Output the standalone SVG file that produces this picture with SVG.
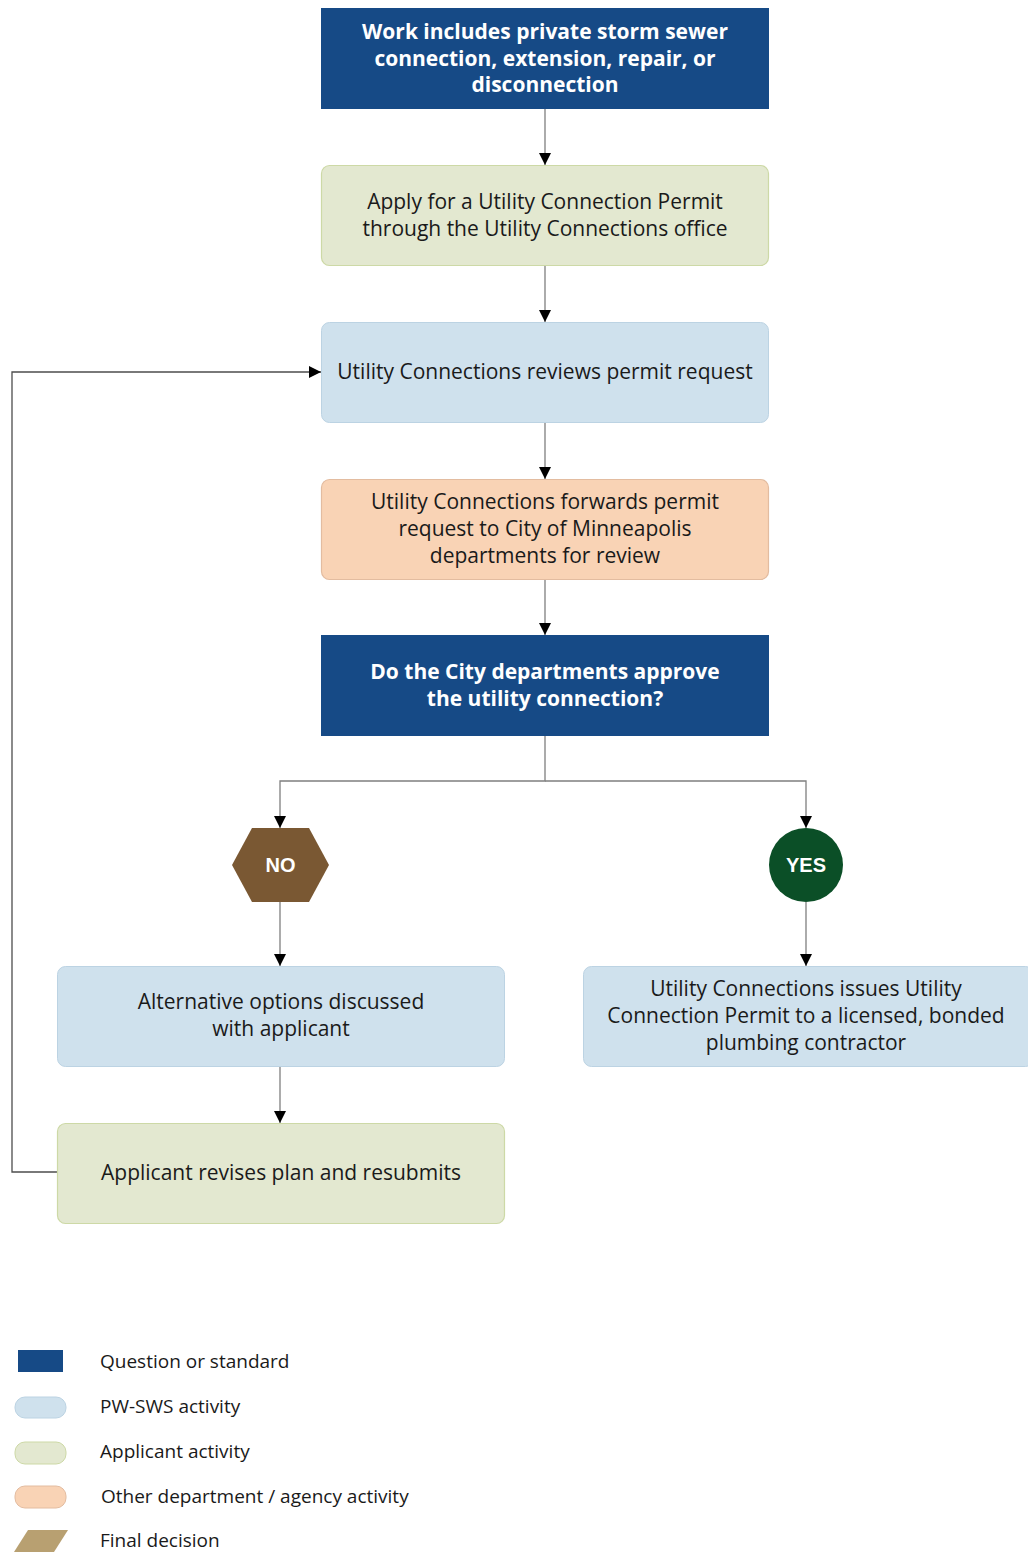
<svg xmlns="http://www.w3.org/2000/svg" width="1028" height="1553" viewBox="0 0 1028 1553">
  <style>
    .q { fill: #164a86; }
    .pw { fill: #cfe1ed; stroke: #bcd3e3; stroke-width: 1; }
    .ap { fill: #e3e8d0; stroke: #cdd9a6; stroke-width: 1.2; }
    .od { fill: #f9d3b5; stroke: #e3bca0; stroke-width: 1.2; }
    .t { font-family: "Open Sans", "Noto Sans", sans-serif; font-size: 21px; fill: #1a1a1a; text-anchor: middle; }
    .tb { font-family: "Open Sans", "Noto Sans", sans-serif; font-size: 21px; font-weight: bold; fill: #ffffff; text-anchor: middle; }
    .dec { font-family: "Liberation Sans", Arial, sans-serif; font-size: 20px; font-weight: bold; fill: #ffffff; text-anchor: middle; }
    .lg { font-family: "Open Sans", "Noto Sans", sans-serif; font-size: 19px; fill: #1a1a1a; }
    .c { fill: none; stroke: #7f7f7f; stroke-width: 1.3; }
    .loop { fill: none; stroke: #4d4d4d; stroke-width: 1.3; }
  </style>
  <defs>
    <marker id="ah" viewBox="0 0 12 12" refX="12" refY="6" markerWidth="12" markerHeight="12" markerUnits="userSpaceOnUse" orient="auto">
      <path d="M0,0 L12,6 L0,12 Z" fill="#000000"/>
    </marker>
  </defs>

  <rect width="1028" height="1553" fill="#ffffff"/>

  <!-- connectors -->
  <g id="connectors">
    <path class="c" d="M545,109 V165" marker-end="url(#ah)"/>
    <path class="c" d="M545,266 V322" marker-end="url(#ah)"/>
    <path class="c" d="M545,423 V479" marker-end="url(#ah)"/>
    <path class="c" d="M545,580 V635" marker-end="url(#ah)"/>
    <path class="c" d="M545,736 V781 H280 V828" marker-end="url(#ah)"/>
    <path class="c" d="M545,781 H806 V828" marker-end="url(#ah)"/>
    <path class="c" d="M280,902 V966" marker-end="url(#ah)"/>
    <path class="c" d="M806,902 V966" marker-end="url(#ah)"/>
    <path class="c" d="M280,1066 V1123" marker-end="url(#ah)"/>
    <path class="loop" d="M57,1172 H12 V372 H321" marker-end="url(#ah)"/>
  </g>

  <g id="n-start">
    <rect class="q" x="321" y="8" width="448" height="101"/>
    <text class="tb" x="545" y="39">Work includes private storm sewer</text>
    <text class="tb" x="545" y="66">connection, extension, repair, or</text>
    <text class="tb" x="545" y="92">disconnection</text>
  </g>

  <g id="n-apply">
    <rect class="ap" x="321.5" y="165.5" width="447" height="100" rx="8"/>
    <text class="t" x="545" y="209">Apply for a Utility Connection Permit</text>
    <text class="t" x="545" y="236">through the Utility Connections office</text>
  </g>

  <g id="n-review">
    <rect class="pw" x="321.5" y="322.5" width="447" height="100" rx="8"/>
    <text class="t" x="545" y="379">Utility Connections reviews permit request</text>
  </g>

  <g id="n-forward">
    <rect class="od" x="321.5" y="479.5" width="447" height="100" rx="8"/>
    <text class="t" x="545" y="509">Utility Connections forwards permit</text>
    <text class="t" x="545" y="536">request to City of Minneapolis</text>
    <text class="t" x="545" y="563">departments for review</text>
  </g>

  <g id="n-question">
    <rect class="q" x="321" y="635" width="448" height="101"/>
    <text class="tb" x="545" y="679">Do the City departments approve</text>
    <text class="tb" x="545" y="706">the utility connection?</text>
  </g>

  <g id="n-no">
    <polygon points="232,865 252,828 309,828 329,865 309,902 252,902" fill="#7a5833"/>
    <text class="dec" x="280.5" y="872">NO</text>
  </g>

  <g id="n-yes">
    <ellipse cx="806" cy="865" rx="37" ry="37" fill="#0b4f27"/>
    <text class="dec" x="806" y="872">YES</text>
  </g>

  <g id="n-alternatives">
    <rect class="pw" x="57.5" y="966.5" width="447" height="100" rx="8"/>
    <text class="t" x="281" y="1009">Alternative options discussed</text>
    <text class="t" x="281" y="1036">with applicant</text>
  </g>

  <g id="n-issue">
    <rect class="pw" x="583.5" y="966.5" width="450" height="100" rx="8"/>
    <text class="t" x="806" y="996">Utility Connections issues Utility</text>
    <text class="t" x="806" y="1023">Connection Permit to a licensed, bonded</text>
    <text class="t" x="806" y="1050">plumbing contractor</text>
  </g>

  <g id="n-revise">
    <rect class="ap" x="57.5" y="1123.5" width="447" height="100" rx="8"/>
    <text class="t" x="281" y="1180">Applicant revises plan and resubmits</text>
  </g>

  <!-- legend -->
  <g id="legend">
    <rect x="18" y="1350" width="45" height="22" fill="#164a86"/>
    <rect x="15" y="1397" width="51" height="21" rx="10" fill="#cfe1ed" stroke="#bcd3e3"/>
    <rect x="15" y="1442" width="51" height="22" rx="10" fill="#e3e8d0" stroke="#cdd9a6"/>
    <rect x="15" y="1486" width="51" height="22" rx="10" fill="#f9d3b5" stroke="#e3bca0"/>
    <polygon points="14,1552 28,1530 68,1530 54,1552" fill="#b8a071"/>
    <text class="lg" x="100" y="1368">Question or standard</text>
    <text class="lg" x="100" y="1413">PW-SWS activity</text>
    <text class="lg" x="100" y="1458">Applicant activity</text>
    <text class="lg" x="101" y="1503">Other department / agency activity</text>
    <text class="lg" x="100" y="1547">Final decision</text>
  </g>
</svg>
